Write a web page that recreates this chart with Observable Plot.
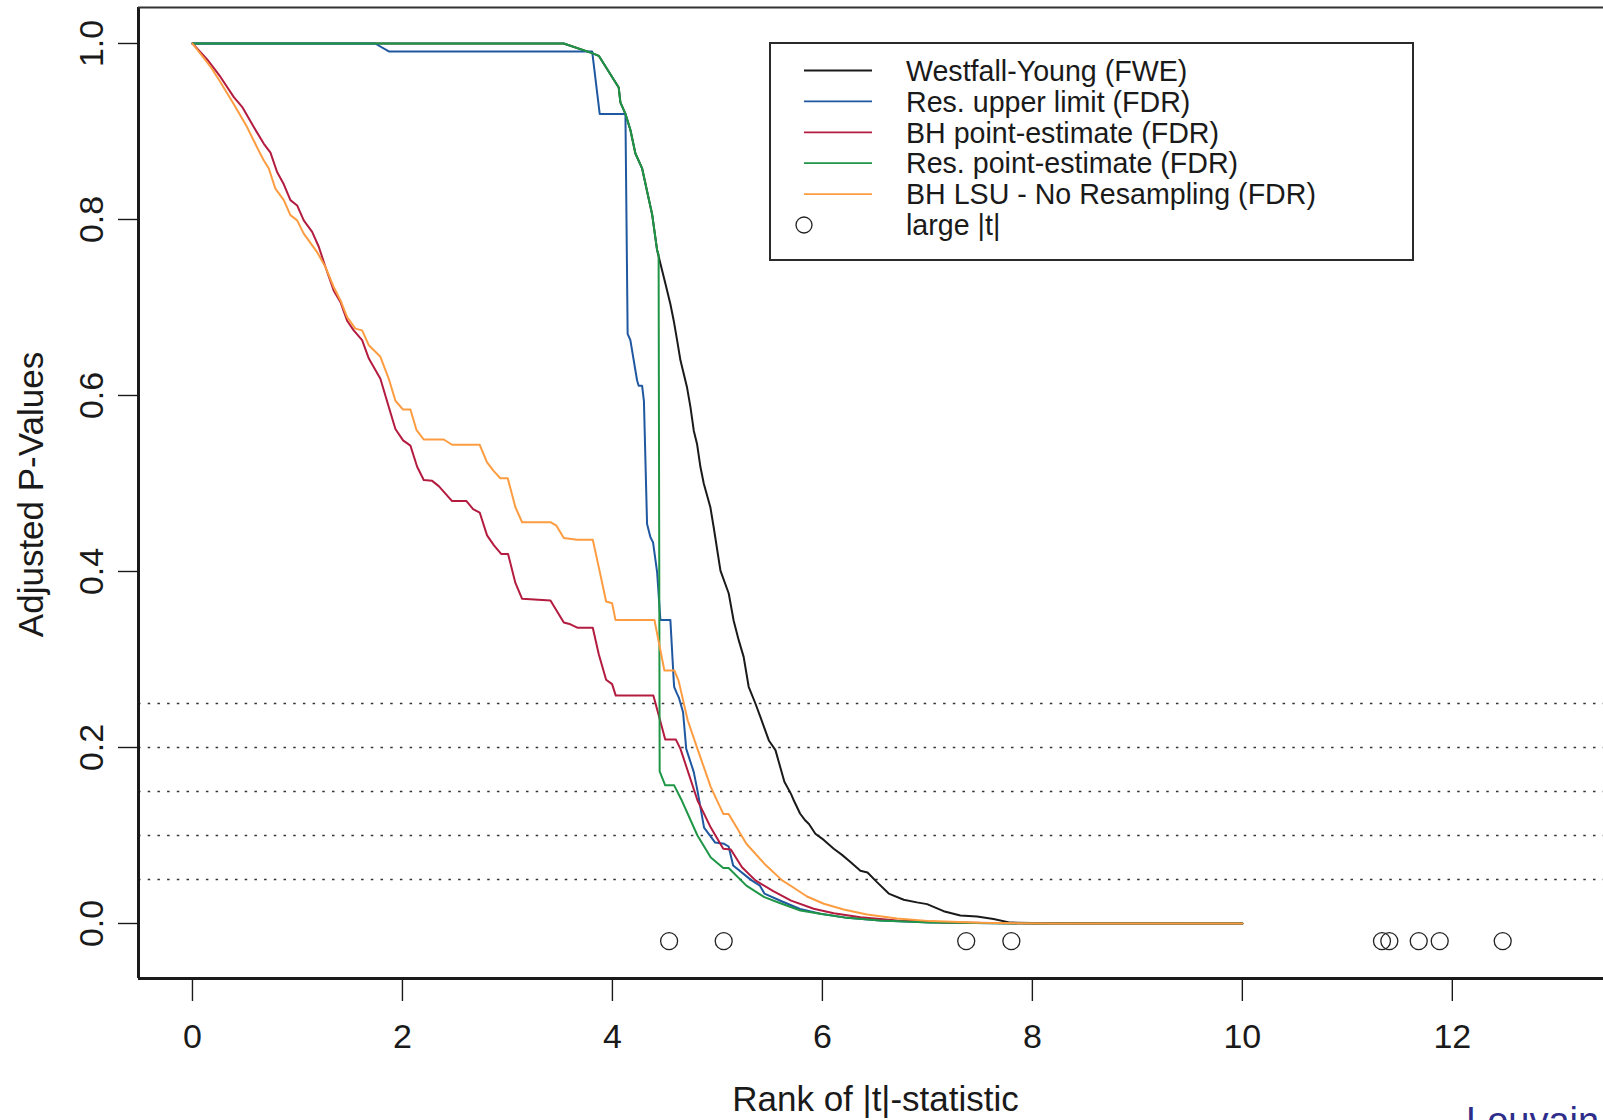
<!DOCTYPE html>
<html>
<head>
<meta charset="utf-8">
<script src="https://cdn.jsdelivr.net/npm/d3@7"></script>
<script src="https://cdn.jsdelivr.net/npm/@observablehq/plot@0.6"></script>
<style>
  html, body { margin: 0; padding: 0; background: #fff; overflow: hidden; }
  #wrap { position: relative; width: 1603px; height: 1120px; overflow: hidden; background: #fff; }
  #wrap svg { display: block; }
  #overlay { position: absolute; left: 0; top: 0; }
</style>
</head>
<body>
<div id="wrap"></div>
<script>
// ---------------- data ----------------
const xTicks = [0, 2, 4, 6, 8, 10, 12];
const yTicks = [0, 0.2, 0.4, 0.6, 0.8, 1.0];
const thresholds = [0.05, 0.10, 0.15, 0.20, 0.25];
const xDomain = [-0.514, 13.44];
const yDomain = [-0.0625, 1.0409];
const xLabel = "Rank of |t|-statistic";
const yLabel = "Adjusted P-Values";
const footer = "Louvain";

const seriesNames = [
  "Westfall-Young (FWE)",
  "Res. upper limit (FDR)",
  "BH point-estimate (FDR)",
  "Res. point-estimate (FDR)",
  "BH LSU - No Resampling (FDR)"
];
const seriesColors = ["#1a1a1a", "#1f58a0", "#b31b3f", "#1e9646", "#fd9c40"];
const circleLabel = "large |t|";

const westfallYoung = [[0,1.0],[3.536,1.0],[3.807,0.989],[3.87,0.986],[4.06,0.950],[4.076,0.933],[4.124,0.920],[4.171,0.902],[4.219,0.875],[4.283,0.858],[4.378,0.806],[4.426,0.765],[4.457,0.75],[4.505,0.727],[4.552,0.704],[4.584,0.685],[4.616,0.663],[4.648,0.64],[4.711,0.609],[4.743,0.587],[4.775,0.560],[4.806,0.545],[4.838,0.519],[4.87,0.500],[4.933,0.473],[4.965,0.450],[5.029,0.401],[5.108,0.375],[5.155,0.344],[5.203,0.322],[5.25,0.303],[5.298,0.269],[5.362,0.250],[5.41,0.2345],[5.49,0.208],[5.553,0.197],[5.638,0.161],[5.702,0.147],[5.727,0.14],[5.787,0.125],[5.838,0.117],[5.872,0.113],[5.933,0.102],[6.013,0.095],[6.108,0.085],[6.187,0.078],[6.267,0.070],[6.362,0.060],[6.43,0.058],[6.52,0.047],[6.632,0.034],[6.775,0.027],[6.90,0.024],[6.997,0.022],[7.155,0.014],[7.314,0.009],[7.473,0.008],[7.63,0.005],[7.79,0.001],[8.0,0.0005],[10,0]];

const resUpper = [[0,1.0],[1.74,1.0],[1.87,0.991],[3.807,0.991],[3.879,0.920],[4.124,0.920],[4.145,0.67],[4.171,0.663],[4.235,0.617],[4.25,0.611],[4.283,0.611],[4.30,0.594],[4.33,0.454],[4.362,0.439],[4.387,0.433],[4.426,0.399],[4.457,0.345],[4.552,0.345],[4.584,0.276],[4.588,0.269],[4.616,0.261],[4.632,0.257],[4.673,0.240],[4.703,0.1985],[4.775,0.172],[4.81,0.151],[4.873,0.109],[4.979,0.092],[5.064,0.0905],[5.107,0.0875],[5.15,0.066],[5.319,0.0496],[5.405,0.043],[5.448,0.034],[5.617,0.025],[5.787,0.0165],[5.98,0.011],[6.235,0.0064],[6.55,0.0034],[7.03,0.001],[8,0],[10,0]];

const bhPoint = [[0,1.0],[0.14,0.982],[0.267,0.962],[0.394,0.939],[0.473,0.928],[0.584,0.905],[0.68,0.886],[0.743,0.876],[0.806,0.854],[0.87,0.840],[0.933,0.822],[0.997,0.816],[1.06,0.799],[1.14,0.786],[1.203,0.769],[1.267,0.746],[1.346,0.719],[1.41,0.706],[1.473,0.685],[1.536,0.674],[1.616,0.663],[1.68,0.642],[1.79,0.619],[1.87,0.587],[1.933,0.562],[2.006,0.549],[2.076,0.543],[2.14,0.519],[2.203,0.504],[2.283,0.503],[2.346,0.497],[2.473,0.480],[2.61,0.480],[2.673,0.471],[2.736,0.467],[2.806,0.441],[2.87,0.430],[2.94,0.420],[3.006,0.420],[3.076,0.387],[3.14,0.369],[3.41,0.367],[3.537,0.342],[3.6,0.340],[3.67,0.336],[3.813,0.336],[3.87,0.306],[3.94,0.277],[3.997,0.272],[4.032,0.259],[4.39,0.259],[4.45,0.2326],[4.503,0.209],[4.605,0.209],[4.648,0.1985],[4.81,0.140],[4.937,0.109],[5.056,0.085],[5.128,0.084],[5.234,0.064],[5.362,0.049],[5.532,0.0367],[5.702,0.026],[5.917,0.0167],[6.108,0.0117],[6.362,0.0072],[6.711,0.0034],[7.187,0.0011],[8,0],[10,0]];

const resPoint = [[0,1.0],[3.536,1.0],[3.807,0.989],[3.87,0.986],[4.06,0.950],[4.076,0.933],[4.124,0.920],[4.171,0.902],[4.219,0.875],[4.283,0.858],[4.378,0.806],[4.426,0.765],[4.44,0.76],[4.45,0.173],[4.503,0.157],[4.588,0.157],[4.66,0.14],[4.81,0.1],[4.937,0.075],[5.056,0.063],[5.107,0.063],[5.276,0.043],[5.447,0.030],[5.6,0.023],[5.79,0.0148],[5.98,0.011],[6.235,0.0064],[6.55,0.0034],[7.03,0.001],[8,0],[10,0]];

const bhLSU = [[0,1.0],[0.124,0.981],[0.187,0.971],[0.267,0.956],[0.394,0.931],[0.52,0.905],[0.632,0.878],[0.68,0.867],[0.727,0.858],[0.79,0.835],[0.87,0.822],[0.933,0.805],[0.997,0.799],[1.06,0.784],[1.187,0.763],[1.267,0.746],[1.346,0.723],[1.41,0.708],[1.473,0.689],[1.552,0.676],[1.616,0.674],[1.68,0.657],[1.79,0.644],[1.87,0.619],[1.933,0.594],[2.006,0.584],[2.076,0.584],[2.133,0.561],[2.203,0.550],[2.393,0.550],[2.473,0.544],[2.736,0.544],[2.806,0.524],[2.87,0.514],[2.933,0.506],[3.003,0.506],[3.076,0.473],[3.14,0.456],[3.41,0.456],[3.467,0.452],[3.537,0.438],[3.663,0.436],[3.813,0.436],[3.87,0.405],[3.94,0.366],[3.997,0.364],[4.029,0.345],[4.40,0.345],[4.495,0.2875],[4.59,0.2875],[4.63,0.276],[4.717,0.231],[4.81,0.1985],[4.937,0.155],[5.056,0.1245],[5.107,0.1245],[5.276,0.0906],[5.447,0.068],[5.617,0.049],[5.727,0.0406],[5.854,0.0307],[6.013,0.0224],[6.203,0.0159],[6.425,0.0102],[6.711,0.0057],[7.03,0.0027],[7.5,0.0008],[8.2,0],[10,0]];

const largeT = [4.54, 5.06, 7.37, 7.80, 11.33, 11.40, 11.68, 11.88, 12.48];
const largeTy = -0.02;

const allSeries = [westfallYoung, resUpper, bhPoint, resPoint, bhLSU];

// ---------------- chart ----------------
const FONT = "'Liberation Sans', Arial, Helvetica, sans-serif";
const ink = "#1a1a1a";

const lineMarks = allSeries.map((s, i) =>
  Plot.line(s, {x: d => d[0], y: d => d[1], stroke: seriesColors[i], strokeWidth: 2, curve: "linear"})
);

const chart = Plot.plot({
  width: 1603,
  height: 1120,
  marginLeft: 138,
  marginRight: 0,
  marginTop: 7,
  marginBottom: 142,
  x: {domain: xDomain, axis: null},
  y: {domain: yDomain, axis: null},
  style: {fontFamily: FONT, background: "white", color: ink, overflow: "visible"},
  marks: [
    Plot.ruleY(thresholds, {stroke: "#333", strokeWidth: 1.5, strokeDasharray: "2.5,7.2"}),
    ...lineMarks,
    Plot.dot(largeT, {x: d => d, y: () => largeTy, r: 8.5, stroke: "#222", fill: "none", strokeWidth: 1.3}),
    // frame (R box): left, bottom, top
    Plot.ruleX([xDomain[0]], {stroke: ink, strokeWidth: 3}),
    Plot.ruleY([yDomain[0]], {stroke: ink, strokeWidth: 3.2}),
    Plot.ruleY([yDomain[1]], {stroke: "#333", strokeWidth: 2}),
    // axes
    Plot.axisX({ticks: xTicks, tickSize: 23, tickPadding: 22, fontSize: 34, label: null, stroke: ink, strokeWidth: 1.4, fill: ink}),
    Plot.axisY({ticks: yTicks, tickSize: 20, tickFormat: () => "", label: null, stroke: ink, strokeWidth: 1.4}),
    Plot.text(yTicks, {y: d => d, text: d => d3.format(".1f")(d), frameAnchor: "left", textAnchor: "middle", dx: -46, rotate: -90, fontSize: 34, lineAnchor: "middle", fill: ink}),
    Plot.text([xLabel], {text: d => d, frameAnchor: "bottom", textAnchor: "middle", dx: 4.5, dy: 121, fontSize: 35, lineAnchor: "middle", fill: ink}),
    Plot.text([yLabel], {text: d => d, frameAnchor: "left", textAnchor: "middle", dx: -107, dy: 1.5, rotate: -90, fontSize: 35, lineAnchor: "middle", fill: ink})
  ]
});

const wrap = document.getElementById("wrap");
wrap.appendChild(chart);

// ---------------- legend overlay ----------------
const ov = d3.select(wrap).append("svg")
  .attr("id", "overlay")
  .attr("width", 1603).attr("height", 1140)
  .style("font-family", FONT);

const box = {x: 770, y: 43, w: 643, h: 217};
ov.append("rect").attr("x", box.x).attr("y", box.y).attr("width", box.w).attr("height", box.h)
  .attr("fill", "white").attr("stroke", "#2a2a2a").attr("stroke-width", 2);

const row0 = 70.5, rowGap = 30.9, lineX1 = 804, lineX2 = 872, textX = 906;
seriesNames.forEach((name, i) => {
  const y = row0 + i * rowGap;
  ov.append("line").attr("x1", lineX1).attr("x2", lineX2).attr("y1", y).attr("y2", y)
    .attr("stroke", seriesColors[i]).attr("stroke-width", 1.8);
  ov.append("text").attr("x", textX).attr("y", y + 10.2).attr("font-size", 28.6).attr("fill", ink).text(name);
});
{
  const y = row0 + seriesNames.length * rowGap;
  ov.append("circle").attr("cx", 804).attr("cy", y).attr("r", 8).attr("fill", "none")
    .attr("stroke", "#222").attr("stroke-width", 1.3);
  ov.append("text").attr("x", textX).attr("y", y + 10.2).attr("font-size", 28.6).attr("fill", ink).text(circleLabel);
}

// footer text (cut off at the bottom of the page as in the reference)
ov.append("text").attr("x", 1466).attr("y", 1134).attr("font-size", 38).attr("fill", "#2e2d8a").text(footer);
</script>
</body>
</html>
